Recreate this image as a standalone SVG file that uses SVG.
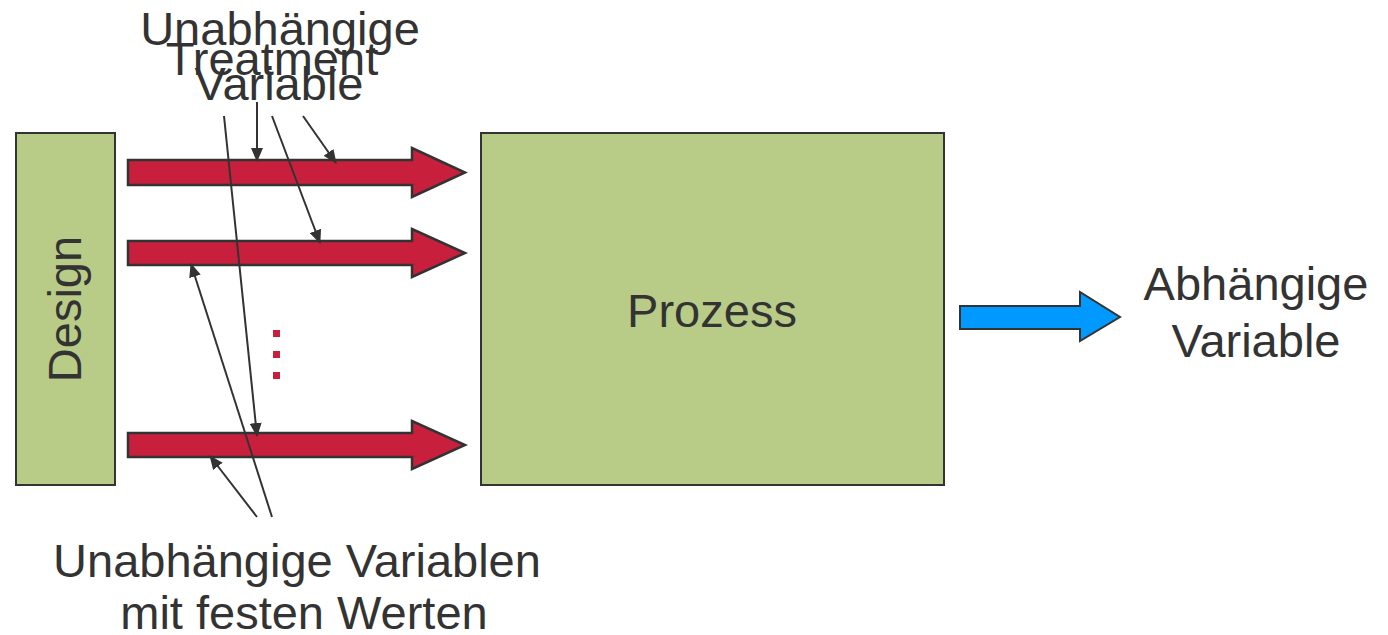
<svg xmlns="http://www.w3.org/2000/svg" width="1388" height="635" viewBox="0 0 1388 635">
<style>
.t{font-family:"Liberation Sans",Arial,sans-serif;font-size:47px;fill:#333;text-anchor:middle}
.box{fill:#B8CC88;stroke:#333;stroke-width:2}
.red{fill:#C8203C;stroke:#333;stroke-width:2.5;stroke-linejoin:miter}
.blue{fill:#0099FF;stroke:#333;stroke-width:2}
.c{stroke:#333;stroke-width:2;fill:none;marker-end:url(#ah)}
.dot{fill:#C8203C}
</style>
<defs>
<marker id="ah" markerWidth="14" markerHeight="12" refX="13" refY="6" orient="auto" markerUnits="userSpaceOnUse">
<path d="M0,0 L14,6 L0,12 Z" fill="#333"/>
</marker>
</defs>
<rect width="1388" height="635" fill="#fff"/>
<g id="design">
<rect class="box" x="16" y="133" width="99" height="352"/>
<text class="t" transform="translate(81,309) rotate(-90)">Design</text>
</g>
<g id="prozess">
<rect class="box" x="481" y="133" width="463" height="352"/>
<text class="t" x="712" y="327">Prozess</text>
</g>
<g id="input1"><path class="red" d="M128,160 H412 V148 L465,172.5 L412,197 V185 H128 Z"/></g>
<g id="input2"><path class="red" d="M128,241 H412 V229 L465,253 L412,277 V265 H128 Z"/></g>
<g id="input3"><path class="red" d="M128,433 H412 V421 L465,445 L412,469 V457 H128 Z"/></g>
<g id="dots">
<rect class="dot" x="273" y="330" width="7" height="7"/>
<rect class="dot" x="273" y="351" width="7" height="7"/>
<rect class="dot" x="273" y="372" width="7" height="7"/>
</g>
<g id="output">
<path class="blue" d="M960,306 H1080 V292 L1120,317 L1080,341 V329 H960 Z"/>
<text class="t" x="1256" y="300">Abhängige</text>
<text class="t" x="1256" y="357">Variable</text>
</g>
<g id="treatment-label">
<text class="t" x="280" y="45">Unabhängige</text>
<text class="t" x="272" y="75">Treatment</text>
<text class="t" x="279" y="100">Variable</text>
</g>
<g id="fixed-label">
<text class="t" x="297" y="577">Unabhängige Variablen</text>
<text class="t" x="304" y="629">mit festen Werten</text>
</g>
<g id="connectors">
<line class="c" x1="257" y1="102" x2="257" y2="161"/>
<line class="c" x1="303" y1="116" x2="336" y2="163"/>
<line class="c" x1="272" y1="116" x2="320" y2="243"/>
<line class="c" x1="224" y1="116" x2="257" y2="436"/>
<line class="c" x1="272" y1="517" x2="191" y2="264"/>
<line class="c" x1="257" y1="517" x2="210" y2="456"/>
</g>
</svg>
